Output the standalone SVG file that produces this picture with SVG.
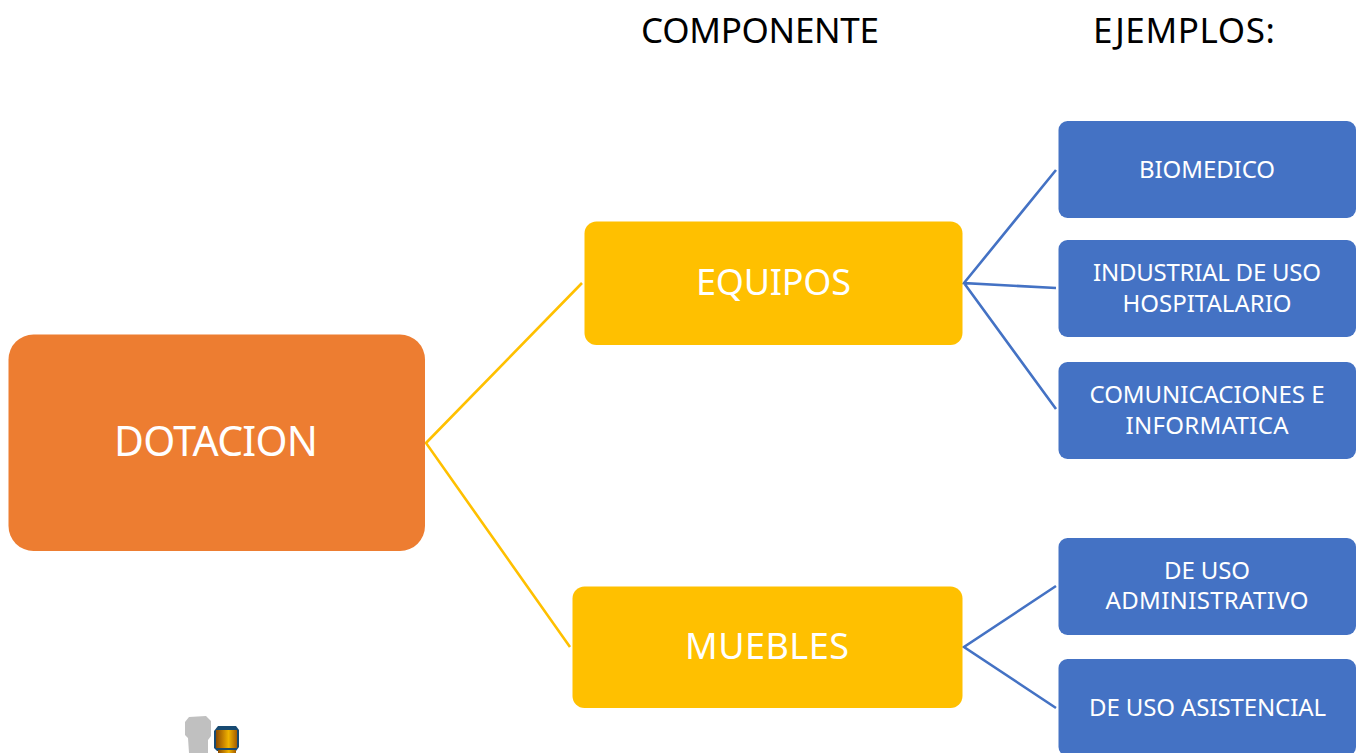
<svg xmlns="http://www.w3.org/2000/svg" width="1362" height="753" viewBox="0 0 1362 753">
<style>
text{font-family:"Noto Sans","Open Sans","Liberation Sans",sans-serif;text-anchor:middle}
.w{fill:#fff}
.h{fill:#000;font-size:35px}
.s{font-size:24px}
.blue{fill:#4472c4}
.gold{fill:#ffc000}
.cb{stroke:#4472c4;stroke-width:2.6;fill:none}
.cg{stroke:#ffc000;stroke-width:2.6;fill:none}
</style>
<rect width="1362" height="753" fill="#fff"/>
<g id="headers">
<text class="h" x="760" y="43" textLength="238">COMPONENTE</text>
<text class="h" x="1184" y="43" textLength="182">EJEMPLOS:</text>
</g>
<g id="connectors">
<path class="cg" d="M582 283L426 443L570 647"/>
<path class="cb" d="M1056 170L964 283L1056 288M964 283L1056 409M1056 586L964 647L1056 708"/>
</g>
<g id="dotacion"><rect x="8.5" y="334.5" width="416.5" height="216.5" rx="25" fill="#ed7d31"/><text class="w" x="216" y="456" font-size="41" textLength="204">DOTACION</text></g>
<g id="equipos"><rect class="gold" x="584.5" y="221.5" width="378" height="123.5" rx="12"/><text class="w" x="773.5" y="295" font-size="36" textLength="155">EQUIPOS</text></g>
<g id="muebles"><rect class="gold" x="572.5" y="586.5" width="390" height="121.5" rx="12"/><text class="w" x="767" y="659" font-size="36" textLength="164">MUEBLES</text></g>
<g id="biomedico"><rect class="blue" x="1058.5" y="121" width="297.5" height="97" rx="9"/><text class="w s" x="1207" y="178" textLength="136">BIOMEDICO</text></g>
<g id="industrial"><rect class="blue" x="1058.5" y="240" width="297.5" height="97" rx="9"/><text class="w s" x="1207" y="281" textLength="228">INDUSTRIAL DE USO</text><text class="w s" x="1207" y="312" textLength="169">HOSPITALARIO</text></g>
<g id="comunicaciones"><rect class="blue" x="1058.5" y="362" width="297.5" height="97" rx="9"/><text class="w s" x="1207" y="403" textLength="235">COMUNICACIONES E</text><text class="w s" x="1207" y="434" textLength="163">INFORMATICA</text></g>
<g id="administrativo"><rect class="blue" x="1058.5" y="538" width="297.5" height="97" rx="9"/><text class="w s" x="1207" y="579" textLength="86">DE USO</text><text class="w s" x="1207" y="609" textLength="203">ADMINISTRATIVO</text></g>
<g id="asistencial"><rect class="blue" x="1058.5" y="659" width="297.5" height="97" rx="9"/><text class="w s" x="1207.5" y="716" textLength="237">DE USO ASISTENCIAL</text></g>
<g id="icon">
<defs><linearGradient id="cyl"><stop offset="0" stop-color="#8a4a00"/><stop offset=".35" stop-color="#c88400"/><stop offset=".6" stop-color="#f0b400"/><stop offset="1" stop-color="#a35c00"/></linearGradient></defs>
<path d="M185 722L189 717L206 716L211 721L211 736L208 740L208 753L189 753L188 738L185 735Z" fill="#c0c0c0"/>
<path d="M214 731L218 726L236 726L239 730L239 747L236 751H217L214 748Z" fill="#174a72"/>
<rect x="216" y="730" width="21" height="18" fill="url(#cyl)"/>
<rect x="218" y="750" width="18" height="3" fill="url(#cyl)"/>
</g>
</svg>
